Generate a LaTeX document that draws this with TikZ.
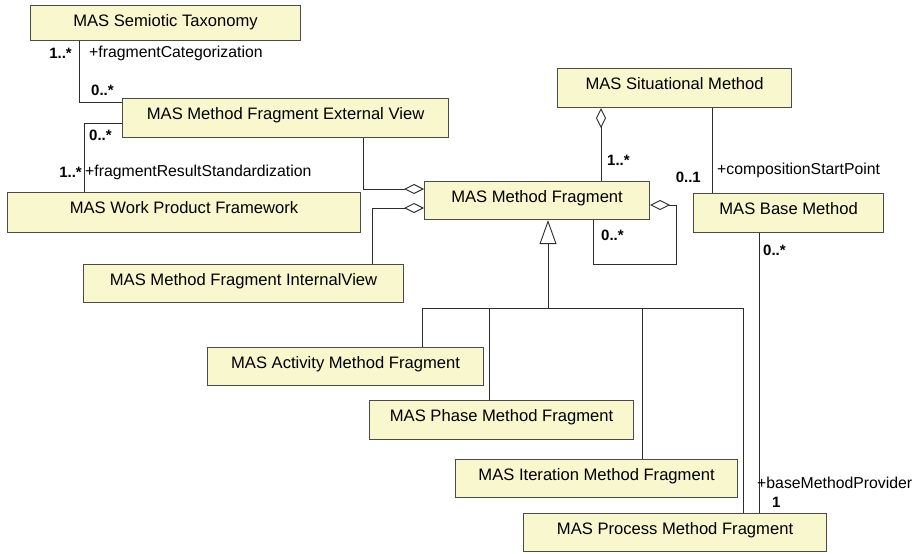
\documentclass[tikz,border=0pt]{standalone}
\usepackage{fontspec}
\setmainfont{Liberation Sans}
\usetikzlibrary{arrows.meta,calc}
\definecolor{clsfill}{RGB}{249,247,206}
\definecolor{clsedge}{RGB}{75,75,75}
\definecolor{wire}{RGB}{45,45,45}
\tikzset{
  cls/.style={draw=clsedge, fill=clsfill, line width=1.1pt, anchor=north west,
    inner xsep=0pt, inner ysep=0pt, text height=21pt, text depth=#1,
    font=\fontsize{16.6}{18}\selectfont},
  cls/.default=17pt,
  conn/.style={draw=wire, line width=0.9pt},
  agg/.style={conn, {Diamond[open, fill=white, length=20pt, width=10pt, line width=0.9pt]}-},
  inh/.style={conn, {Triangle[open, fill=white, length=24pt, width=17pt, line width=0.9pt]}-},
  role/.style={inner sep=0pt, font=\fontsize{15.8}{17}\selectfont},
  mult/.style={inner sep=0pt, font=\fontsize{15}{17}\selectfont\bfseries},
}
\begin{document}
\begin{tikzpicture}[x=1pt, y=-1pt]
\useasboundingbox (0,0) rectangle (921,554);

% classes
\node[cls=14pt, minimum width=270pt] (st)  at (30,5)    {MAS Semiotic Taxonomy};
\node[cls=18pt, minimum width=326pt] (ev)  at (122,98)  {MAS Method Fragment External View};
\node[cls=19pt, minimum width=353pt] (wp)  at (7,192)   {MAS Work Product Framework};
\node[cls,      minimum width=225pt] (mf)  at (424,181) {MAS Method Fragment};
\node[cls,      minimum width=320pt] (iv)  at (83,264)  {MAS Method Fragment InternalView};
\node[cls=18pt, minimum width=234pt] (sm)  at (557,68)  {MAS Situational Method};
\node[cls=18pt, minimum width=190pt] (bm)  at (693,193) {MAS Base Method};
\node[cls,      minimum width=276pt] (am)  at (207,347) {MAS Activity Method Fragment};
\node[cls=18pt, minimum width=264pt] (pm)  at (369,400) {MAS Phase Method Fragment};
\node[cls,      minimum width=282pt] (im)  at (455,459) {MAS Iteration Method Fragment};
\node[cls,      minimum width=303pt] (prm) at (523,513) {MAS Process Method Fragment};

% associations
\draw[conn] ($(st.south west)+(49,0)$) |- ($(ev.north west)+(0,4)$);
\draw[conn] ($(ev.north west)+(0,25)$) -| ($(wp.north west)+(77,0)$);
\draw[conn] ($(sm.south west)+(155,0)$) -- ($(bm.north west)+(19,0)$);
\draw[conn] ($(bm.south west)+(66,0)$) -- ($(prm.north west)+(236,0)$);

% aggregations
\draw[agg] ($(mf.north west)+(0,8)$) -| ($(ev.south west)+(241,0)$);
\draw[agg] ($(mf.north west)+(0,27)$) -| ($(iv.north west)+(289,0)$);
\draw[agg] ($(sm.south west)+(44,0)$) -- ($(mf.north west)+(177,0)$);
\draw[agg] ($(mf.north east)+(0,24)$) -| ($(mf.south west)+(252,44)$) -| ($(mf.south west)+(169,0)$);

% generalisation tree
\draw[inh] ($(mf.south west)+(124,0)$) -- ($(mf.south west)+(124,89)$);
\draw[conn] ($(am.north west)+(215,0)$) |- ($(prm.north west)+(220,-205)$) -- ($(prm.north west)+(220,0)$);
\draw[conn] ($(pm.north west)+(120,0)$) -- ++(0,-92);
\draw[conn] ($(im.north west)+(187,0)$) -- ++(0,-151);

% role names and multiplicities
\node[mult, anchor=east] at (72,53) {1..*};
\node[role, anchor=west] at (89,53) {+fragmentCategorization};
\node[mult, anchor=west] at (91,90) {0..*};
\node[mult, anchor=west] at (89,135) {0..*};
\node[mult, anchor=east] at (82,172) {1..*};
\node[role, anchor=west] at (85,172) {+fragmentResultStandardization};
\node[mult, anchor=west] at (607,160) {1..*};
\node[mult, anchor=west] at (601,235) {0..*};
\node[mult, anchor=east] at (701,177) {0..1};
\node[role, anchor=west] at (717,170) {+compositionStartPoint};
\node[mult, anchor=west] at (763,250) {0..*};
\node[role, anchor=west] at (757,483) {+baseMethodProvider};
\node[mult, anchor=west] at (772,502) {1};
\end{tikzpicture}
\end{document}
